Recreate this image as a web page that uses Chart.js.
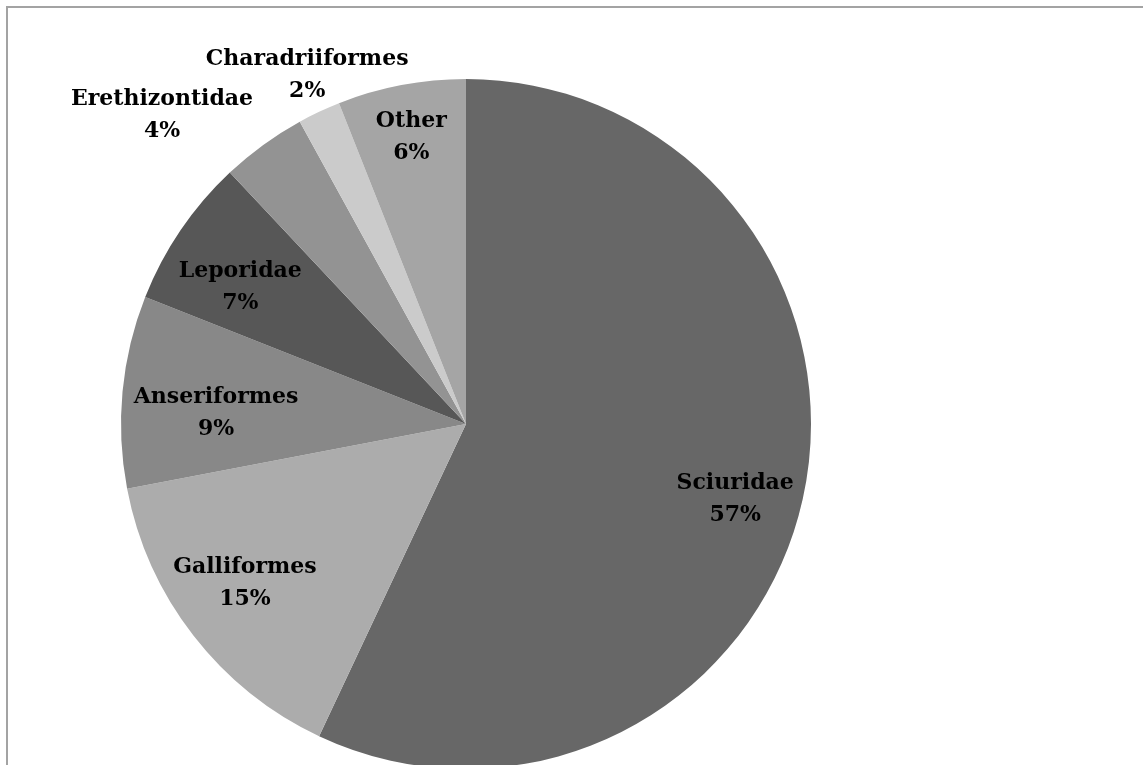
<!DOCTYPE html>
<html>
<head>
<meta charset="utf-8">
<script src="https://cdn.jsdelivr.net/npm/chart.js@4"></script>
<style>
  html, body { margin: 0; padding: 0; background: #fff; overflow: hidden; }
  #frame {
    position: absolute; left: 6px; top: 6px;
    width: 1200px; height: 820px;
    border: 2px solid #a3a3a3;
  }
  #wrap { position: absolute; left: 0; top: 0; width: 1143px; height: 780px; }
</style>
</head>
<body>
<div id="frame"></div>
<div id="wrap"><canvas id="pieChart" width="1143" height="780"></canvas></div>
<script>
const categories = ["Sciuridae", "Galliformes", "Anseriformes", "Leporidae", "Erethizontidae", "Charadriiformes", "Other"];
const shares = [57, 15, 9, 7, 4, 2, 6];
const sliceColors = ["#676767", "#acacac", "#888888", "#575757", "#939393", "#cbcbcb", "#a5a5a5"];

// where each label sits: fraction of the radius, and degrees nudged off the slice middle
const labelRadius = [0.81, 0.79, 0.725, 0.765, 1.255, 1.11, 0.846];
const labelNudge = [3, 2, -3, -3, -8.6, 0.7, 0];

const labelFont = "bold 22px 'DejaVu Serif'";

// draws "name / NN%" on two centred lines for every slice
const sliceLabels = {
  id: "sliceLabels",
  afterDatasetsDraw(chart) {
    const ctx = chart.ctx;
    const meta = chart.getDatasetMeta(0);
    ctx.save();
    ctx.font = labelFont;
    ctx.fillStyle = "#000";
    ctx.textAlign = "center";
    ctx.textBaseline = "middle";
    meta.data.forEach((arc, i) => {
      const mid = (arc.startAngle + arc.endAngle) / 2 + labelNudge[i] * Math.PI / 180;
      const r = arc.outerRadius * labelRadius[i];
      const x = arc.x + Math.cos(mid) * r;
      const y = arc.y + Math.sin(mid) * r;
      ctx.fillText(categories[i], x, y - 16);
      ctx.fillText(shares[i] + "%", x, y + 16);
    });
    ctx.restore();
  }
};

const ctx = document.getElementById("pieChart").getContext("2d");
new Chart(ctx, {
  type: "pie",
  data: {
    labels: categories,
    datasets: [{
      data: shares,
      backgroundColor: sliceColors,
      borderWidth: 0
    }]
  },
  options: {
    responsive: false,
    animation: false,
    layout: { padding: { left: 121, right: 332, top: 79, bottom: 11 } },
    plugins: {
      legend: { display: false },
      tooltip: { enabled: false }
    }
  },
  plugins: [sliceLabels]
});
</script>
</body>
</html>
